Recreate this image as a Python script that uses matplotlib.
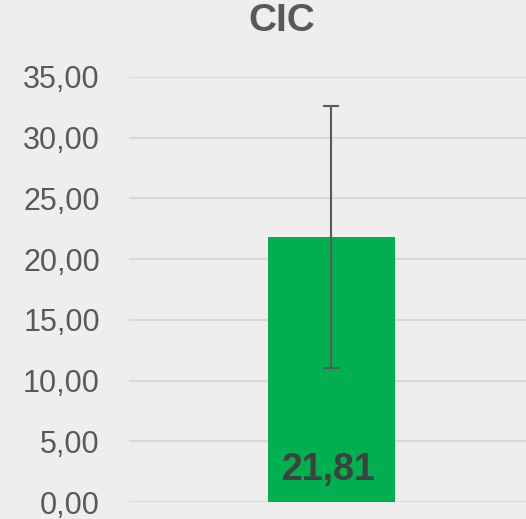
import matplotlib
matplotlib.use("Agg")
import matplotlib.pyplot as plt
from matplotlib.ticker import FuncFormatter

categories = ["CIC"]
values = [21.81]
errors = [10.8]
yticks = [0, 5, 10, 15, 20, 25, 30, 35]

plt.rcParams['font.family'] = ['Liberation Sans', 'DejaVu Sans']
bg = '#EEEEEE'
fig = plt.figure(figsize=(5.26, 5.19), dpi=100, facecolor=bg)
W, H = 526, 519
ax = fig.add_axes([129 / W, 17 / H, (526 - 129) / W, (502 - 77) / H], facecolor=bg)

ax.bar([0], values, width=0.32, color='#00B050', zorder=2)
ax.errorbar([0], values, yerr=errors, fmt='none', ecolor='#595959', elinewidth=1.5,
            capsize=6, capthick=1.5, zorder=3)
ax.set_xlim(-0.51, 0.49)
ax.set_ylim(0, 35)
ax.set_yticks(yticks)
ax.yaxis.set_major_formatter(FuncFormatter(lambda v, p: f"{v:.2f}".replace('.', ',')))
ax.tick_params(axis='y', length=0, pad=21, labelsize=22, labelcolor='#595959')
ax.set_xticks([])
for s in ax.spines.values():
    s.set_visible(False)
ax.grid(axis='y', color='#D9D9D9', linewidth=1.5, zorder=0)
ax.set_axisbelow(True)

for i, v in enumerate(values):
    ax.text(i - 0.008, 2.6, f"{v:.2f}".replace('.', ','), ha='center', va='center',
            fontsize=27, fontweight='bold', color='#404040', zorder=4)

fig.text(282 / W, 1 - 21 / H, categories[0], ha='center', va='center', fontsize=28,
         fontweight='bold', color='#595959')

fig.savefig('out.png', dpi=100, facecolor=bg)
